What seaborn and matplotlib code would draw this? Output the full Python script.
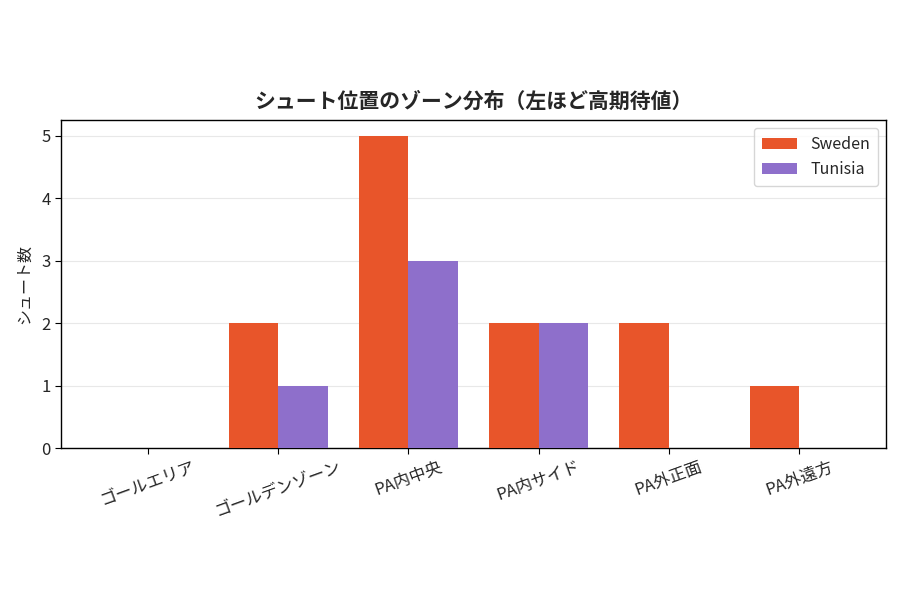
import pandas as pd
import seaborn as sns
import matplotlib.pyplot as plt

zones = ['ゴールエリア', 'ゴールデンゾーン', 'PA内中央', 'PA内サイド', 'PA外正面', 'PA外遠方']
sweden = [0, 2, 5, 2, 2, 1]
tunisia = [0, 1, 3, 2, 0, 0]
teams = ['Sweden', 'Tunisia']
colors = ['#E8552A', '#8E6FCB']

df = pd.DataFrame({
    'zone': zones * 2,
    'count': sweden + tunisia,
    'team': [teams[0]] * len(zones) + [teams[1]] * len(zones),
})

sns.set_style('white')
plt.rcParams['font.family'] = ['Noto Sans CJK JP', 'DejaVu Sans']

fig = plt.figure(figsize=(9, 6), dpi=100)
ax = fig.add_axes([0.0678, 0.2533, 0.9167, 0.5467])
sns.barplot(data=df, x='zone', y='count', hue='team', order=zones,
            palette=colors, width=0.76, saturation=1, linewidth=0, ax=ax, zorder=3)

ax.set_title('シュート位置のゾーン分布（左ほど高期待値）', fontsize=15, fontweight='bold', pad=9)
ax.set_ylabel('シュート数', fontsize=11.5, labelpad=6)
ax.set_xlabel('')
ax.set_xlim(-0.668, 5.668)
ax.set_ylim(0, 5.25)
ax.set_yticks(range(6))
ax.yaxis.grid(True, color='#e8e8e8', linewidth=0.8, zorder=0)
ax.tick_params(axis='both', labelsize=12, length=4, color='black', bottom=True, left=True)
plt.setp(ax.get_xticklabels(), rotation=20)
for s in ax.spines.values():
    s.set_color('black')
    s.set_linewidth(1)
leg = ax.legend(loc='upper right', fontsize=11.5, frameon=True, fancybox=True,
                handlelength=2.2, borderpad=0.5)
leg.get_frame().set_edgecolor('#cccccc')

fig.savefig('out.png', dpi=100)
